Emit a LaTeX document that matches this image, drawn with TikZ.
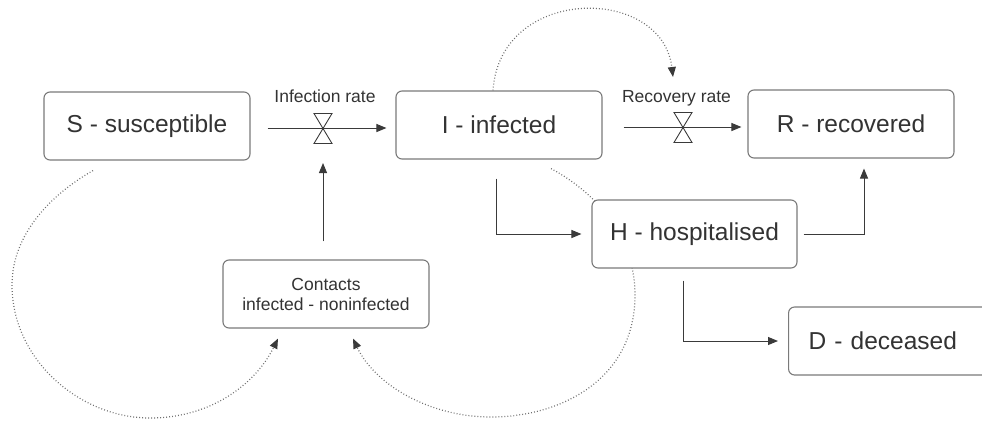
\documentclass[tikz,border=0pt]{standalone}
\usepackage{fontspec}
\setmainfont{Liberation Sans}
\usetikzlibrary{arrows.meta,calc}
\definecolor{txt}{HTML}{333333}
\definecolor{edgec}{HTML}{7A7A7A}
\definecolor{arr}{HTML}{3A3A3A}
\definecolor{dotc}{HTML}{707070}
\begin{document}
\begin{tikzpicture}[x=1pt,y=-1pt,
  box/.style={draw=edgec, line width=1.1pt, rounded corners=6pt, fill=white,
    minimum width=206pt, minimum height=68pt, inner sep=0pt, text=txt,
    font=\fontsize{24.5}{28}\selectfont},
  small/.style={text=txt, font=\fontsize{17.5}{20}\selectfont},
  flow/.style={draw=arr, line width=1pt, -{Triangle[length=10pt,width=8pt]}},
  dotline/.style={draw=dotc, line width=1.2pt, dash pattern=on 0.9pt off 2.1pt},
  dotarrow/.style={dotline, -{Triangle[length=10pt,width=8pt,color=arr]}},
  valve/.style={draw=arr, line width=0.9pt}
]
\useasboundingbox (0,0) rectangle (982,421);
\clip (0,0) rectangle (982,421);

% boxes
\node[box] (S) at (147,126) {S - susceptible};
\node[box] (I) at (499,125) {I - infected};
\node[box] (R) at (851,124) {R - recovered};
\node[box, small, align=center] (C) at (326,294) {Contacts\\infected - noninfected};
\node[box, anchor=west, inner xsep=20pt, text width=175pt, align=left] (D) at (788,341) {D - deceased};

% dotted feedback loops
\draw[dotarrow] ($(I.north)+(-6,0)$) .. controls (500,-15) and (662,-15) .. (673,77);
\draw[dotarrow] ($(S.south)+(-54,10)$) .. controls (50,195) and (12,235) .. (12,285)
  .. controls (12,360) and (80,418) .. (150,418)
  .. controls (210,418) and (255,385) .. ($(C.south)+(-48,10)$);
\draw[dotarrow] ($(I.south)+(52,9)$) .. controls (600,195) and (635,240) .. (635,295)
  .. controls (635,380) and (560,417) .. (491,417)
  .. controls (430,417) and (375,385) .. ($(C.south)+(27,10)$);

\node[box, minimum width=205pt] (H) at (694.5,234) {H - hospitalised};

% valves and rate labels
\coordinate (v1) at (323,128);
\coordinate (v2) at (683,127);
\node[small, anchor=base] (l1) at (325,102) {Infection rate};
\node[small, anchor=base] (l2) at (676.5,102) {Recovery rate};

\draw[flow, shorten <=17pt, shorten >=9pt] (S.east |- v1) -- (I.west |- v1);
\draw[flow, shorten <=21pt, shorten >=6pt] (I.east |- v2) -- (R.west |- v2);
\draw[valve] ($(v1)+(-9,-14.5)$) -- ($(v1)+(9,-14.5)$) -- ($(v1)+(-9,15.5)$) -- ($(v1)+(9,15.5)$) -- cycle;
\draw[valve] ($(v2)+(-9,-14.5)$) -- ($(v2)+(9,-14.5)$) -- ($(v2)+(-9,15.5)$) -- ($(v2)+(9,15.5)$) -- cycle;

\draw[flow, shorten <=18pt, shorten >=35pt] (C.north -| v1) -- (v1);

% outflows
\draw[flow, shorten >=10pt] ($(I.south)+(-3,19)$) |- (H.west);
\draw[flow, shorten <=6pt, shorten >=10pt] (H.east) -| ($(R.south)+(13,0)$);
\draw[flow, shorten >=10pt] ($(H.south)+(-11.5,12)$) |- (D.west);
\end{tikzpicture}
\end{document}
